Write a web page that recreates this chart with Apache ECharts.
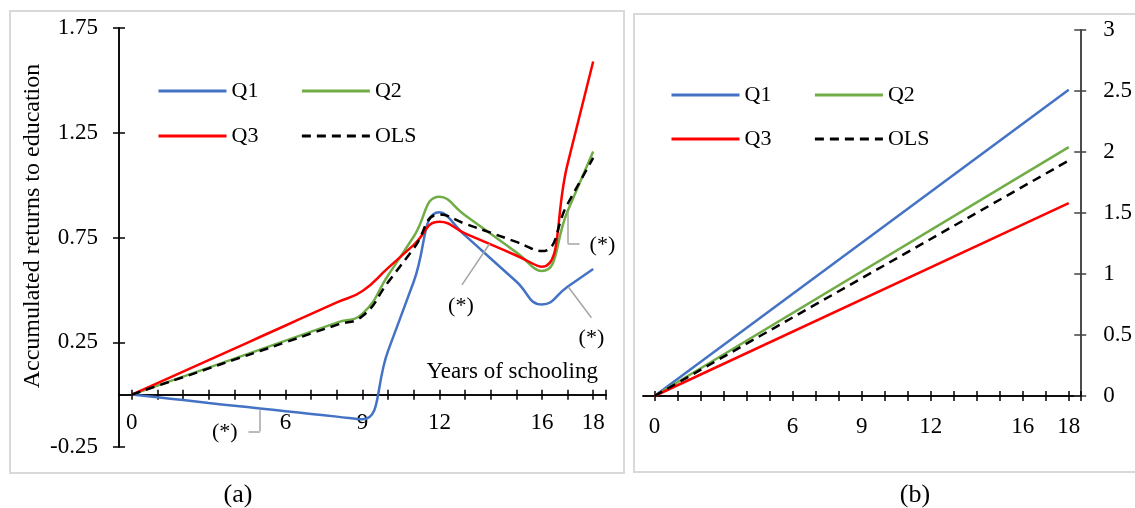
<!DOCTYPE html>
<html>
<head>
<meta charset="utf-8">
<script src="https://cdn.jsdelivr.net/npm/echarts@6/dist/echarts.min.js"></script>
<style>
  html, body { margin: 0; padding: 0; background: #fff; }
  #chart { width: 1135px; height: 508px; }
</style>
</head>
<body>
<div id="chart"></div>
<script>
// panel (a): accumulated returns, one value per year of schooling
const years = [0, 1, 2, 3, 4, 5, 6, 7, 8, 9, 10, 11, 12, 13, 14, 15, 16, 17, 18]
const q1Acc = [0, -0.013, -0.026, -0.04, -0.053, -0.066, -0.079, -0.092, -0.105, -0.118, 0.21, 0.54, 0.87, 0.76, 0.65, 0.54, 0.43, 0.515, 0.6]
const q2Acc = [0, 0.043, 0.086, 0.129, 0.172, 0.215, 0.258, 0.301, 0.344, 0.387, 0.57, 0.755, 0.945, 0.856, 0.768, 0.679, 0.59, 0.875, 1.16]
const q3Acc = [0, 0.055, 0.11, 0.165, 0.22, 0.275, 0.33, 0.385, 0.44, 0.495, 0.605, 0.715, 0.825, 0.77, 0.717, 0.664, 0.61, 1.1, 1.59]
const olsAcc = [0, 0.042, 0.083, 0.125, 0.167, 0.208, 0.25, 0.292, 0.333, 0.375, 0.537, 0.698, 0.86, 0.816, 0.773, 0.729, 0.685, 0.91, 1.13]

// panel (b): straight lines from 0 to 18 years
const linYears = [0, 18]
const q1Lin = [0, 2.51]
const q2Lin = [0, 2.04]
const q3Lin = [0, 1.58]
const olsLin = [0, 1.93]

// axis ticks / labels
const yearTicks = [0, 1, 2, 3, 4, 5, 6, 7, 8, 9, 10, 11, 12, 13, 14, 15, 16, 17, 18, 18.5]
const yearLabels = [0, 6, 9, 12, 16, 18]

// "(*)" notes, in data units of panel (a)
const noteLines = [
  [[5, -0.075], [5, -0.175]],
  [[5, -0.175], [4.55, -0.175]],
  [[13.96, 0.72], [12.88, 0.524]],
  [[17.03, 0.514], [17.93, 0.367]],
  [[17, 0.873], [17, 0.722]],
  [[17, 0.722], [17.47, 0.722]]
]
const noteLabels = [[3.63, -0.181], [12.84, 0.42], [17.93, 0.27], [18.36, 0.714]]

const FONT = "'Liberation Serif', 'Times New Roman', serif"
const colors = { Q1: '#4472C4', Q2: '#70AD47', Q3: '#FF0000', OLS: '#000000' }

const pts = (xs, ys) => xs.map((x, i) => [x, ys[i]])

const chart = echarts.init(document.getElementById('chart'))

const xAxisFor = (grid, inside, showLabel, margin) => ({
  gridIndex: grid,
  type: 'value',
  position: 'bottom',
  min: -0.5,
  max: 18.5,
  splitLine: { show: false },
  axisLine: { onZero: true, lineStyle: { color: '#000', width: 1.5 } },
  axisTick: { customValues: yearTicks, inside: inside, length: 5, lineStyle: { color: '#000', width: 1.5 } },
  axisLabel: {
    show: showLabel,
    customValues: yearLabels,
    margin: margin,
    color: '#000',
    fontSize: 23,
    fontFamily: FONT
  }
})

const yAxisFor = (grid, pos, min, max, inside, showLabel, color, margin, fmt) => ({
  gridIndex: grid,
  type: 'value',
  position: pos,
  min: min,
  max: max,
  interval: 0.5,
  splitLine: { show: false },
  axisLine: { show: true, onZero: false, lineStyle: { color: color, width: 1.5 } },
  axisTick: { show: true, inside: inside, length: 6, lineStyle: { color: color, width: 1.5 } },
  axisLabel: {
    show: showLabel,
    margin: margin,
    color: '#000',
    fontSize: 23,
    fontFamily: FONT,
    formatter: fmt
  }
})

const lineSeries = (name, data, xi, yi, extra) => Object.assign({
  name: name,
  type: 'line',
  xAxisIndex: xi,
  yAxisIndex: yi,
  data: data,
  smooth: 0.5,
  symbol: 'none',
  showSymbol: false,
  lineStyle: {
    color: colors[name],
    width: 2.5,
    type: name === 'OLS' ? [9, 6] : 'solid'
  },
  itemStyle: { color: colors[name] }
}, extra || {})

const legendRow = (names, left, top) => ({
  data: names,
  left: left,
  top: top,
  padding: 0,
  itemWidth: 68,
  itemHeight: 14,
  itemGap: 42,
  selectedMode: false,
  itemStyle: { opacity: 0 },
  lineStyle: { width: 3 },
  textStyle: { fontSize: 22, fontFamily: FONT, color: '#000' }
})

const annot = {
  markLine: {
    silent: true,
    symbol: ['none', 'none'],
    label: { show: false },
    lineStyle: { color: '#a5a5a5', width: 1.5, type: 'solid' },
    data: noteLines.map(l => [{ coord: l[0] }, { coord: l[1] }])
  },
  markPoint: {
    silent: true,
    symbol: 'circle',
    symbolSize: 1,
    itemStyle: { color: 'rgba(0,0,0,0)' },
    label: {
      show: true,
      position: 'inside',
      formatter: '(*)',
      color: '#000',
      fontSize: 22,
      fontFamily: FONT
    },
    data: noteLabels.map(c => ({ coord: c }))
  }
}

chart.setOption({
  animation: false,
  backgroundColor: '#fff',
  grid: [
    { left: 119, top: 28, width: 487, height: 419 },
    { left: 643, top: 30, width: 443, height: 366 }
  ],
  legend: [
    legendRow(['Q1', 'Q2'], 157, 80),
    legendRow(['Q3', 'OLS'], 157, 125),
    legendRow(['Q1', 'Q2'], 670, 84),
    legendRow(['Q3', 'OLS'], 670, 128)
  ],
  xAxis: [
    xAxisFor(0, false, true, -36),
    xAxisFor(0, true, false, 0),
    xAxisFor(1, false, true, 19),
    xAxisFor(1, true, false, 0)
  ],
  yAxis: [
    yAxisFor(0, 'left', -0.25, 1.75, false, true, '#000', 21, v => v.toFixed(2)),
    yAxisFor(0, 'left', -0.25, 1.75, true, false, '#000', 21),
    yAxisFor(1, 'right', 0, 3, false, true, '#404040', 23),
    yAxisFor(1, 'right', 0, 3, true, false, '#404040', 23)
  ],
  series: [
    lineSeries('Q1', pts(years, q1Acc), 0, 0, annot),
    lineSeries('Q2', pts(years, q2Acc), 0, 0),
    lineSeries('Q3', pts(years, q3Acc), 0, 0),
    lineSeries('OLS', pts(years, olsAcc), 0, 0),
    lineSeries('Q1', pts(linYears, q1Lin), 2, 2),
    lineSeries('Q2', pts(linYears, q2Lin), 2, 2),
    lineSeries('Q3', pts(linYears, q3Lin), 2, 2),
    lineSeries('OLS', pts(linYears, olsLin), 2, 2)
  ],
  graphic: [
    {
      type: 'rect', silent: true, z: -10,
      shape: { x: 10, y: 11, width: 614, height: 462 },
      style: { fill: 'none', stroke: '#d9d9d9', lineWidth: 2 }
    },
    {
      type: 'rect', silent: true, z: -10,
      shape: { x: 634, y: 14, width: 520, height: 458 },
      style: { fill: 'none', stroke: '#d9d9d9', lineWidth: 2 }
    },
    {
      type: 'text', x: 33, y: 226, rotation: Math.PI / 2,
      style: {
        text: 'Accumulated returns to education',
        fill: '#000', font: '24px ' + FONT,
        textAlign: 'center', textVerticalAlign: 'middle'
      }
    },
    {
      type: 'text', x: 598, y: 372,
      style: {
        text: 'Years of schooling',
        fill: '#000', font: '23px ' + FONT,
        textAlign: 'right', textVerticalAlign: 'middle'
      }
    },
    {
      type: 'text', x: 238, y: 495,
      style: { text: '(a)', fill: '#000', font: '26px ' + FONT, textAlign: 'center', textVerticalAlign: 'middle' }
    },
    {
      type: 'text', x: 915, y: 495,
      style: { text: '(b)', fill: '#000', font: '26px ' + FONT, textAlign: 'center', textVerticalAlign: 'middle' }
    }
  ]
})
</script>
</body>
</html>
